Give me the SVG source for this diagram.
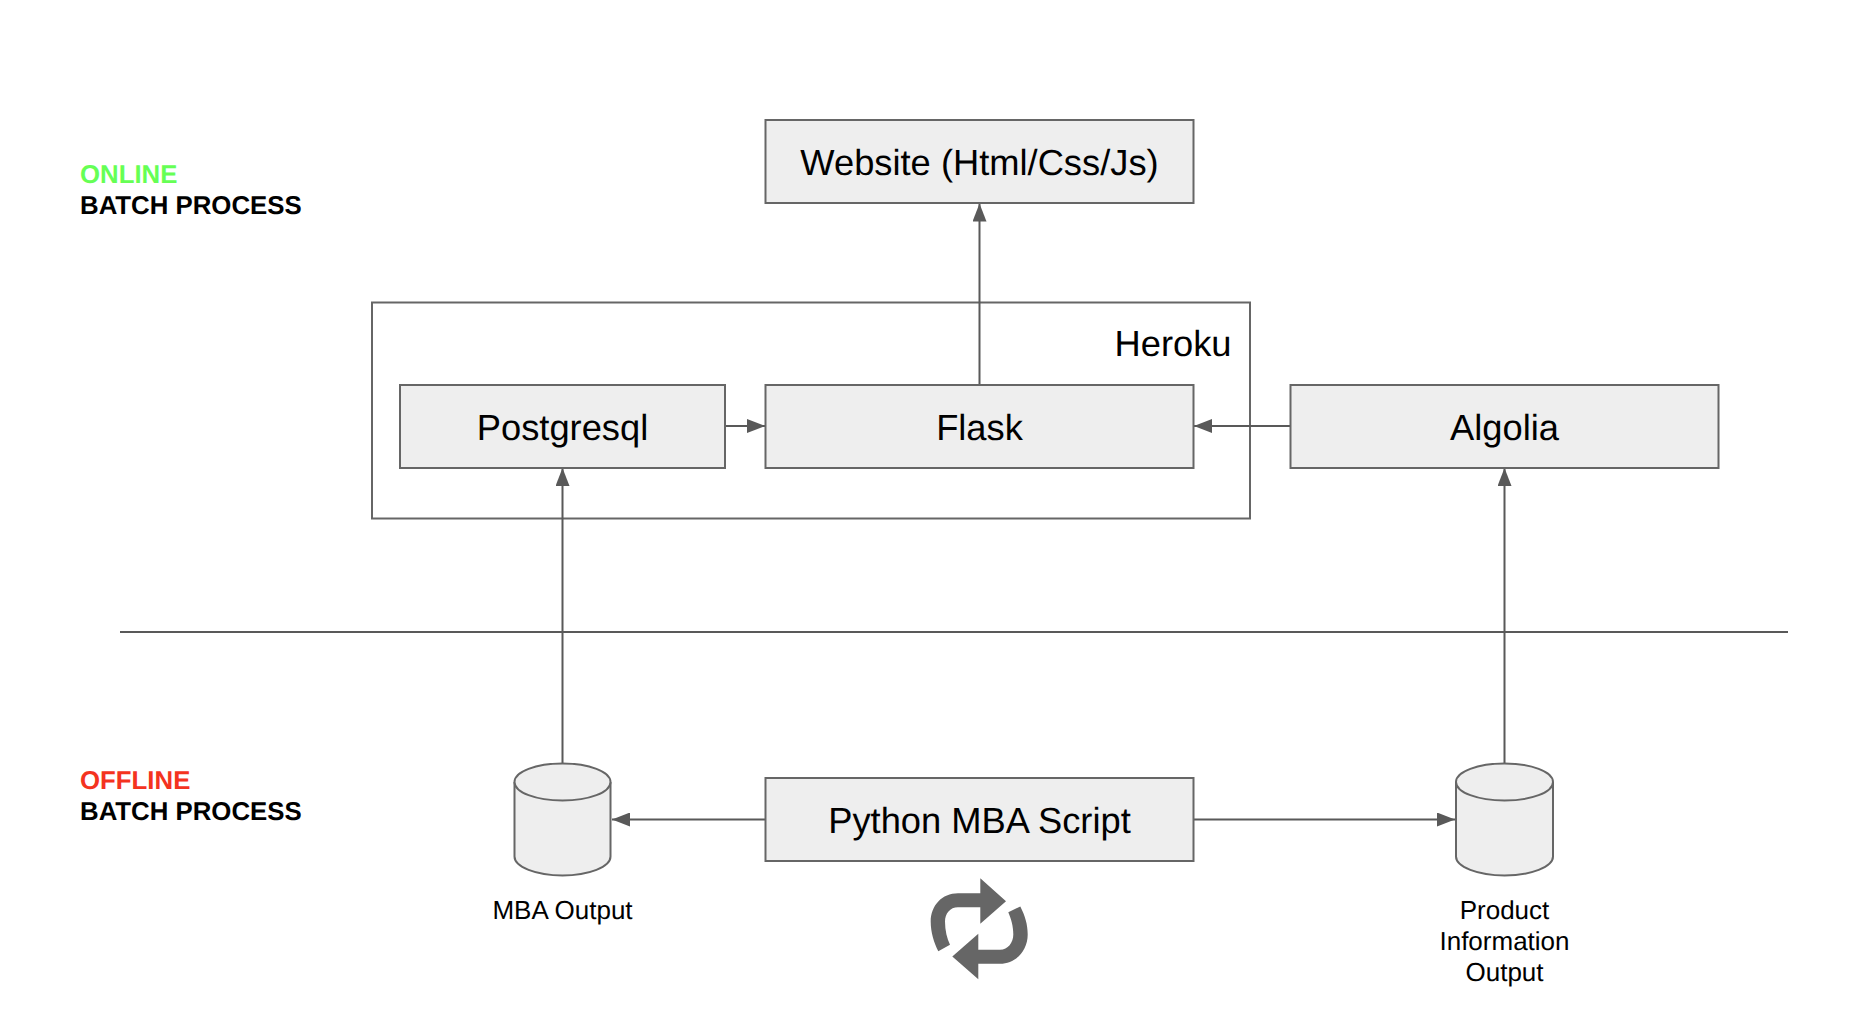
<svg xmlns="http://www.w3.org/2000/svg" width="1858" height="1034" viewBox="0 0 1858 1034">
<style>
text{font-family:"Liberation Sans",Arial,sans-serif;fill:#000;text-anchor:middle;text-rendering:geometricPrecision}
.b{fill:#eee;stroke:#666;stroke-width:2}
.t{font-size:36.300px}
.s{font-size:26px}
.h{font-size:25.800px;font-weight:700;text-anchor:start}
.c{fill:none;stroke:#595959;stroke-width:2}
</style>
<defs>
<marker id="a" markerUnits="userSpaceOnUse" markerWidth="18" markerHeight="14" refX="18" refY="7" orient="auto"><path d="M0 0L18 7L0 14Z" fill="#595959"/></marker>
</defs>
<rect width="1858" height="1034" fill="#fff"/>
<g id="heroku"><rect x="372" y="302.500" width="878" height="216" fill="none" stroke="#666" stroke-width="2"/><text class="t" x="1173" y="355.500">Heroku</text></g>
<g id="connectors">
<path class="c" d="M979.500 385V203.500" marker-end="url(#a)"/>
<path class="c" d="M725 426H765" marker-end="url(#a)"/>
<path class="c" d="M1290 426H1194" marker-end="url(#a)"/>
<path class="c" d="M562.500 763V468" marker-end="url(#a)"/>
<path class="c" d="M1504.500 763V468" marker-end="url(#a)"/>
<path class="c" d="M765 819.500H612" marker-end="url(#a)"/>
<path class="c" d="M1193 819.500H1455" marker-end="url(#a)"/>
<path class="c" d="M120 632H1788" stroke="#666"/>
</g>
<g id="website"><rect class="b" x="765.500" y="120" width="428" height="83"/><text class="t" x="979.500" y="174.500">Website (Html/Css/Js)</text></g>
<g id="postgresql"><rect class="b" x="400" y="385" width="325" height="83"/><text class="t" x="562.500" y="439.500">Postgresql</text></g>
<g id="flask"><rect class="b" x="765.500" y="385" width="428" height="83"/><text class="t" x="979.500" y="439.500">Flask</text></g>
<g id="algolia"><rect class="b" x="1290.500" y="385" width="428" height="83"/><text class="t" x="1504.500" y="439.500">Algolia</text></g>
<g id="python"><rect class="b" x="765.500" y="778" width="428" height="83"/><text class="t" x="979.500" y="832.500">Python MBA Script</text></g>
<g id="mba-output"><path class="b" d="M514.500 782C514.500 771.500 536 763.500 562.500 763.500S610.500 771.500 610.500 782V856.500C610.500 867 589 875.500 562.500 875.500S514.500 867 514.500 856.500Z"/><path class="b" d="M514.500 782C514.500 792.500 536 800.500 562.500 800.500S610.500 792.500 610.500 782" fill="none"/><text class="s" x="562.500" y="919">MBA Output</text></g>
<g id="product-output"><path class="b" d="M1456 782C1456 771.500 1478 763.500 1504.500 763.500S1553 771.500 1553 782V856.500C1553 867 1531 875.500 1504.500 875.500S1456 867 1456 856.500Z"/><path class="b" d="M1456 782C1456 792.500 1478 800.500 1504.500 800.500S1553 792.500 1553 782" fill="none"/><text class="s" x="1504.500" y="919">Product</text><text class="s" x="1504.500" y="950">Information</text><text class="s" x="1504.500" y="981">Output</text></g>
<g id="cycle-icon" fill="#666"><path d="M1006 901.200L980.300 878.200V893.200H958C942 893.200 930.700 905.500 930.700 921.500C930.700 932.500 934 942.500 938.300 951.200L950 944.800C947 938.500 945 930.500 945 921.500C945 913.500 950 907.200 958 907.200H980.300V923.800Z"/><path d="M952.300 956.500L978.300 933.800V949.800H1000C1008 949.800 1013.300 942.500 1013.300 934.500C1013.300 925.500 1011 918.500 1008.300 912.200L1020.300 906.500C1025 915.500 1027.700 924.500 1027.700 934.500C1027.700 950.500 1016 963.800 1000 963.800H978.300V979.200Z"/></g>
<g id="online-label"><text class="h" x="80" y="183" style="fill:#6f5">ONLINE</text><text class="h" x="80" y="214">BATCH PROCESS</text></g>
<g id="offline-label"><text class="h" x="80" y="789" style="fill:#f4331f">OFFLINE</text><text class="h" x="80" y="820">BATCH PROCESS</text></g>
</svg>
